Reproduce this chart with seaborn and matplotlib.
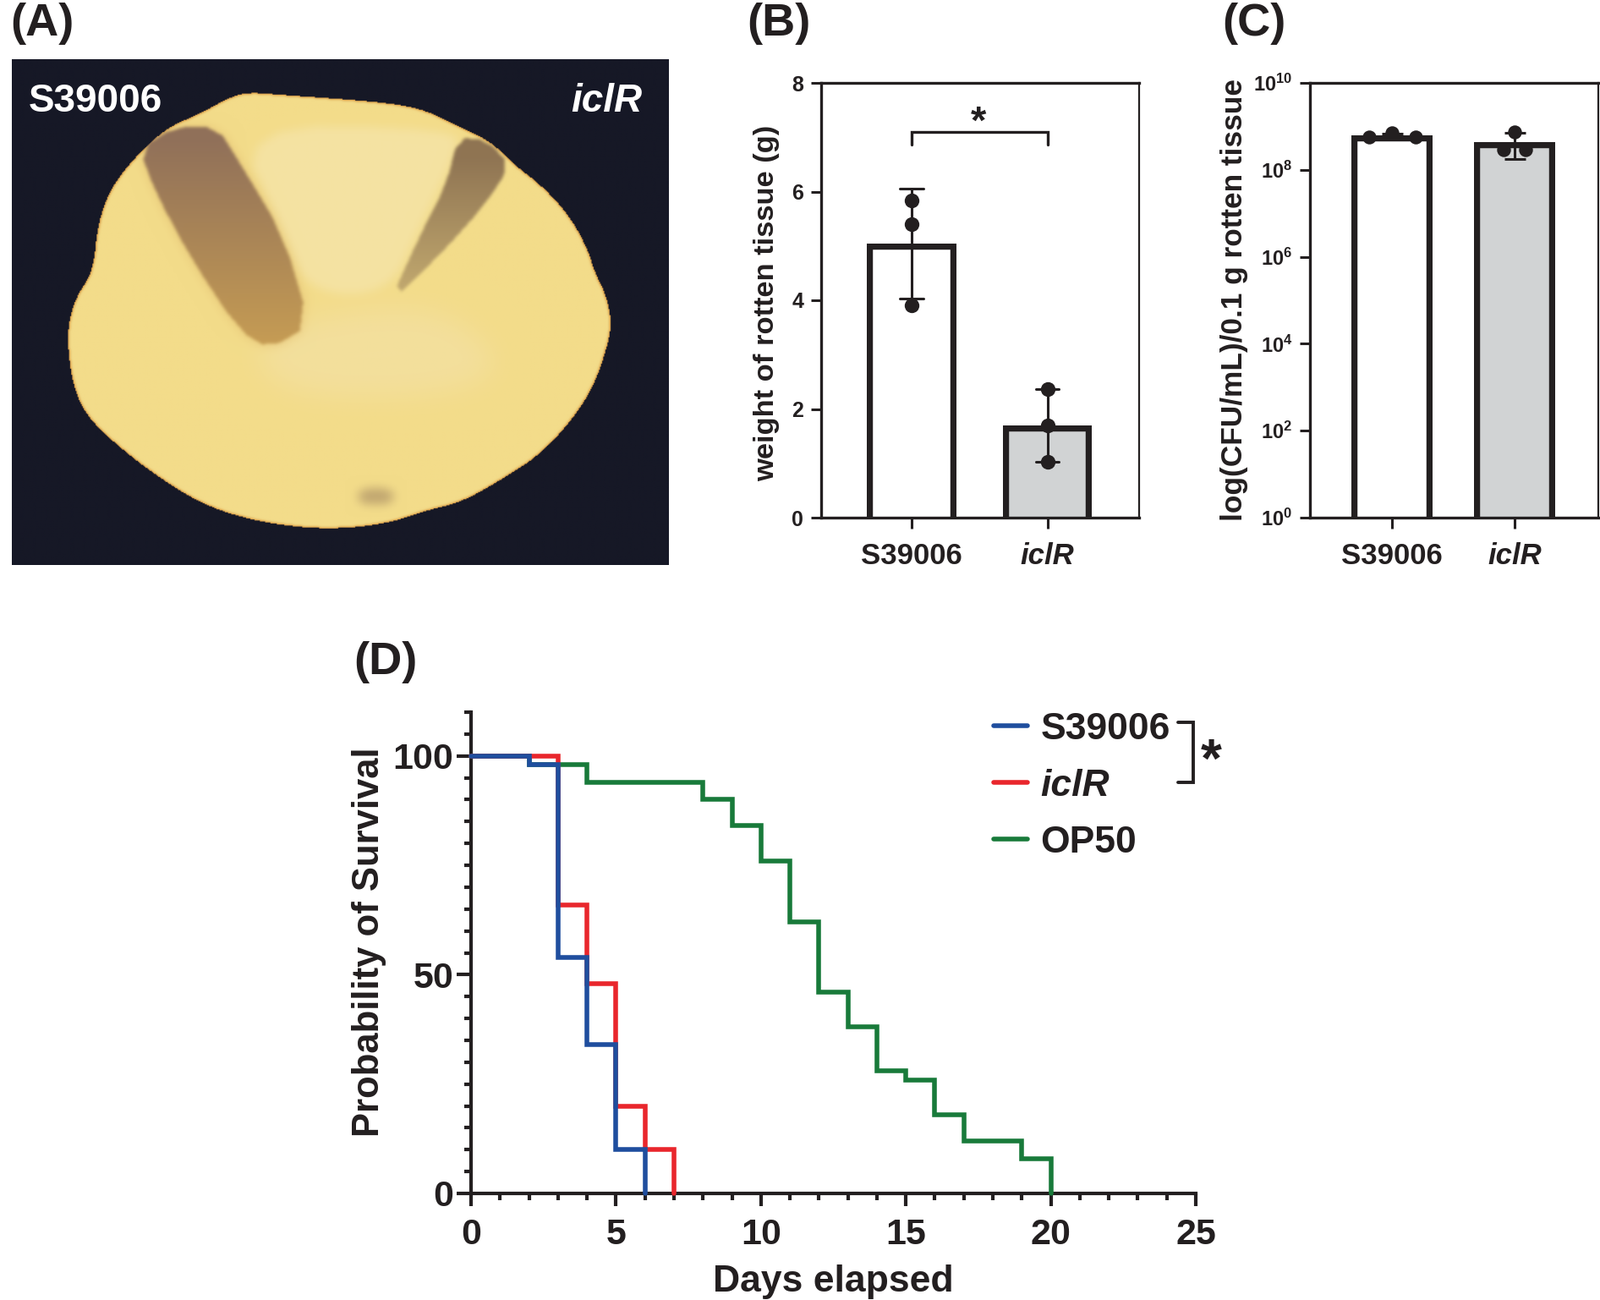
import numpy as np
import pandas as pd
import matplotlib
matplotlib.use("Agg")
import matplotlib.pyplot as plt
from matplotlib.path import Path
from matplotlib.lines import Line2D
from matplotlib.transforms import Bbox, TransformedBbox
from matplotlib.ticker import FixedLocator, NullLocator, FuncFormatter
import seaborn as sns

# ---------- data ----------
strains = ["S39006", "iclR"]
weight_s39006 = [3.90, 5.40, 5.83]
weight_iclr = [1.03, 1.70, 2.37]
cfu_s39006 = [5.8e8, 7.0e8, 5.8e8]
cfu_iclr = [2.9e8, 7.4e8, 2.9e8]
cfu_dodge_s39006 = [-0.19, 0.0, 0.19]
cfu_dodge_iclr = [-0.09, 0.0, 0.09]

days_s39006 = [0, 2, 3, 4, 5, 6]
surv_s39006 = [100, 98, 54, 34, 10, 0]
days_iclr = [0, 3, 4, 5, 6, 7]
surv_iclr = [100, 66, 48, 20, 10, 0]
days_op50 = [0, 2, 4, 8, 9, 10, 11, 12, 13, 14, 15, 16, 17, 19, 20]
surv_op50 = [100, 98, 94, 90, 84, 76, 62, 46, 38, 28, 26, 18, 12, 8, 0]

# photo sketch outlines
potato_x = [555,640,760,880,960,1040,1110,1160,1230,1290,1330,1345,1370,1385,1370,1340,1290,1220,1130,1040,960,880,780,680,560,460,370,280,190,160,150,170,210,220,250,310,380,450,510]
potato_y = [250,258,268,280,298,345,385,445,510,590,680,740,800,880,960,1060,1150,1240,1310,1370,1392,1425,1440,1438,1415,1375,1310,1230,1130,1030,900,810,740,610,510,420,345,310,270]
wedge_x = [530,1030,1035,950,880,700,640]
wedge_y = [340,350,410,620,800,800,640]
lesion_l_x = [315,395,490,540,640,700,610,540,430,350]
lesion_l_y = [405,345,345,440,640,885,950,900,700,520]
lesion_r_x = [1035,1100,1155,1095,990,880,950,1010]
lesion_r_y = [375,380,450,560,700,825,640,500]
pale_x = [700,1000,1150,1000,650,560]
pale_y = [860,830,1000,1080,1080,950]
spot_x = [810,890,890,810]
spot_y = [1330,1330,1375,1375]

INK = "#231f20"
GREY = "#d1d3d4"
BLUE = "#1f4e9e"
RED = "#e9262c"
GREEN = "#187a3a"

sns.set_theme(style="ticks")
plt.rcParams["font.family"] = ["Liberation Sans", "DejaVu Sans"]
plt.rcParams["font.weight"] = "bold"
plt.rcParams["mathtext.fontset"] = "custom"
plt.rcParams["mathtext.bf"] = "Liberation Sans:bold"
plt.rcParams["mathtext.rm"] = "Liberation Sans:bold"
plt.rcParams["text.color"] = INK
plt.rcParams["axes.labelcolor"] = INK
plt.rcParams["xtick.color"] = INK
plt.rcParams["ytick.color"] = INK

W, H = 1892, 1537
fig = plt.figure(figsize=(W / 100, H / 100), dpi=100, facecolor="white")


def px_axes(l, r, t, b):
    return fig.add_axes([l / W, 1 - b / H, (r - l) / W, (b - t) / H])


def blur(a, k):
    ker = np.ones(k) / k
    pad = k * 3
    a = np.pad(a, pad, mode="edge")
    for _ in range(3):
        a = np.apply_along_axis(lambda v: np.convolve(v, ker, mode="same"), 0, a)
        a = np.apply_along_axis(lambda v: np.convolve(v, ker, mode="same"), 1, a)
    return a[pad:-pad, pad:-pad]


def smooth(px, py, n=3):
    p = np.column_stack([px, py]).astype(float)
    for _ in range(n):
        q = np.roll(p, -1, axis=0)
        out = np.empty((2 * len(p), 2))
        out[0::2] = 0.75 * p + 0.25 * q
        out[1::2] = 0.25 * p + 0.75 * q
        p = out
    return p


# ---------- (A) photo sketch ----------
axA = px_axes(14, 791, 70, 668)
xs = np.linspace(27, 1512, 620)
ys = np.linspace(162, 1538, 500)
gx, gy = np.meshgrid(xs, ys)
pts = np.column_stack([gx.ravel(), gy.ravel()])


def mask(px, py, n=1):
    return Path(smooth(px, py, n)).contains_points(pts).reshape(gx.shape).astype(float)


def mix(img, col, m):
    c = np.array(matplotlib.colors.to_rgb(col))
    return img * (1 - m[..., None]) + c * m[..., None]


pot = mask(potato_x, potato_y, 3)
img = np.zeros(gx.shape + (3,)) + np.array(matplotlib.colors.to_rgb("#161826"))
body = np.ones_like(img) * np.array(matplotlib.colors.to_rgb("#f3dc8a"))
rim = np.clip(1 - blur(pot, 3), 0, 1) * 2
body = mix(body, "#d9983f", np.clip(rim, 0, 1))
body = mix(body, "#f5e4a8", 0.8 * blur(mask(wedge_x, wedge_y, 2), 9))
body = mix(body, "#f3e3b2", 0.45 * blur(mask(pale_x, pale_y, 2), 25))
ll = mask(lesion_l_x, lesion_l_y)
body = mix(body, "#d9ae62", 0.6 * blur(ll, 11))
ll = blur(ll, 3)
fade = np.clip((gy - 380) / 560, 0, 1)
r0 = np.array(matplotlib.colors.to_rgb("#8c6c58"))
r1 = np.array(matplotlib.colors.to_rgb("#c49a52"))
ll_col = r0 * (1 - fade[..., None]) + r1 * fade[..., None]
body = body * (1 - 0.95 * ll[..., None]) + ll_col * 0.95 * ll[..., None]
lr = blur(mask(lesion_r_x, lesion_r_y), 3)
fade2 = np.clip((gy - 430) / 380, 0, 1)
alpha2 = lr * (0.95 - 0.5 * fade2)
body = mix(body, "#8a6f50", alpha2)
body = mix(body, "#b59a6a", 0.8 * blur(mask(spot_x, spot_y, 2), 9))
img = img * (1 - pot[..., None]) + body * pot[..., None]
axA.imshow(np.clip(img, 0, 1), extent=(27, 1512, 1538, 162), aspect="auto", interpolation="bilinear")
axA.set_axis_off()
axA.text(65, 276, "S39006", color="white", fontsize=33, fontweight="bold", va="center", ha="left")
axA.text(1452, 276, "iclR", color="white", fontsize=33, fontweight="bold", style="italic", va="center", ha="right")


# ---------- (B) bars ----------
def inner_stroke(ax, floor):
    """Stroke drawn inside the bar outline, with no stroke along the axis line."""
    for bar in ax.patches:
        x0, w, top = bar.get_x(), bar.get_width(), bar.get_y() + bar.get_height()
        bar.set_y(floor / 1000 if floor > 0 else -1.0)
        bar.set_height(top - bar.get_y())
        bar.set_linewidth(10.4)
        bar.set_clip_path(None)
        bar.set_clip_box(TransformedBbox(Bbox([[x0, floor], [x0 + w, top]]), ax.transData))


def bar_frame(ax, xlim):
    for s in ax.spines.values():
        s.set_linewidth(2.4)
        s.set_color(INK)
    ax.spines["right"].set_linewidth(1.6)
    ax.set_xlim(*xlim)
    ax.tick_params(axis="both", width=2.2, length=9, pad=6)
    ax.tick_params(axis="x", labelsize=25, pad=12)
    ax.set_xlabel("")
    ax.xaxis.set_major_locator(FixedLocator([0, 1]))
    ax.set_xticklabels(strains)
    for lab in ax.get_xticklabels():
        lab.set_fontweight("bold")
        if lab.get_text() == "iclR":
            lab.set_style("italic")


axB = px_axes(971, 1347, 98, 612)
dfB = pd.DataFrame({"strain": [strains[0]] * 3 + [strains[1]] * 3, "w": weight_s39006 + weight_iclr})
sns.barplot(data=dfB, x="strain", y="w", hue="strain", order=strains, palette=["white", GREY], legend=False,
            width=0.66, errorbar="sd", capsize=0.17, edgecolor=INK,
            err_kws={"color": INK, "linewidth": 2.2}, ax=axB)
inner_stroke(axB, 0.0)
sns.stripplot(data=dfB, x="strain", y="w", order=strains, color=INK, size=12.5, jitter=False, ax=axB, zorder=5)
axB.set_ylim(0, 8)
axB.set_yticks([0, 2, 4, 6, 8])
axB.tick_params(axis="y", labelsize=18)
axB.set_ylabel("weight of rotten tissue (g)", fontsize=24.8, fontweight="bold", labelpad=10, y=0.493)
bar_frame(axB, (-0.667, 1.676))
for lab in axB.get_yticklabels():
    lab.set_fontweight("bold")
axB.plot([0, 0, 1, 1], [6.87, 7.1, 7.1, 6.87], color=INK, lw=2.4, solid_joinstyle="miter")
axB.text(0.49, 7.26, "*", fontsize=34, fontweight="bold", ha="center", va="center")

# ---------- (C) log bars ----------
axC = px_axes(1549, 1890, 98, 612)
means = [np.mean(cfu_s39006), np.mean(cfu_iclr)]
sds = [np.std(cfu_s39006, ddof=1), np.std(cfu_iclr, ddof=1)]
dfC = pd.DataFrame({"strain": strains, "m": means})
sns.barplot(data=dfC, x="strain", y="m", hue="strain", order=strains, palette=["white", GREY], legend=False,
            width=0.66, errorbar=None, edgecolor=INK, ax=axC)
inner_stroke(axC, 1.0)
axC.errorbar([0, 1], means, yerr=sds, fmt="none", ecolor=INK, elinewidth=2.2, capsize=9, capthick=2.2, zorder=4)
dfC2 = pd.DataFrame({"pos": [0 + d for d in cfu_dodge_s39006] + [1 + d for d in cfu_dodge_iclr],
                     "v": cfu_s39006 + cfu_iclr})
axC.set_yscale("log")
sns.scatterplot(data=dfC2, x="pos", y="v", color=INK, s=140, edgecolor=INK, linewidth=0, ax=axC, zorder=5)
axC.set_ylim(1, 1e10)
axC.yaxis.set_major_locator(FixedLocator([10.0 ** k for k in range(0, 11, 2)]))
axC.yaxis.set_minor_locator(NullLocator())
axC.yaxis.set_major_formatter(FuncFormatter(lambda v, p: r"$\mathbf{10^{%d}}$" % round(np.log10(v))))
axC.tick_params(axis="y", labelsize=17)
axC.set_ylabel("log(CFU/mL)/0.1 g rotten tissue", fontsize=25.4, fontweight="bold", labelpad=4)
bar_frame(axC, (-0.67, 1.68))

# ---------- (D) survival ----------
axD = px_axes(557, 1414, 842, 1411)
dfD = pd.concat([
    pd.DataFrame({"day": days_op50, "surv": surv_op50, "strain": "OP50"}),
    pd.DataFrame({"day": days_iclr, "surv": surv_iclr, "strain": "iclR"}),
    pd.DataFrame({"day": days_s39006, "surv": surv_s39006, "strain": "S39006"}),
])
sns.lineplot(data=dfD, x="day", y="surv", hue="strain", hue_order=["OP50", "iclR", "S39006"],
             palette=[GREEN, RED, BLUE], drawstyle="steps-post", estimator=None, errorbar=None,
             linewidth=4, legend=False, ax=axD, clip_on=False, solid_joinstyle="miter", zorder=4)
axD.set_xlim(0, 25)
axD.set_ylim(0, 110)
sns.despine(ax=axD)
for s in ("left", "bottom"):
    axD.spines[s].set_linewidth(3)
    axD.spines[s].set_color(INK)
axD.set_xticks(range(0, 26, 5))
axD.set_xticks(range(0, 26), minor=True)
axD.set_yticks([0, 50, 100])
axD.set_yticks(range(0, 111, 5), minor=True)
axD.tick_params(axis="both", which="major", width=3, labelsize=31)
axD.tick_params(axis="x", which="major", length=11, pad=10)
axD.tick_params(axis="y", which="major", length=12, pad=3)
axD.tick_params(axis="both", which="minor", width=3, length=6)
for lab in axD.get_xticklabels() + axD.get_yticklabels():
    lab.set_fontweight("bold")
axD.set_xlabel("Days elapsed", fontsize=32, fontweight="bold", labelpad=11)
axD.set_ylabel("Probability of Survival", fontsize=31.4, fontweight="bold", labelpad=5, y=0.522)

handles = [Line2D([], [], color=BLUE, lw=4), Line2D([], [], color=RED, lw=4), Line2D([], [], color=GREEN, lw=4)]
leg = axD.legend(handles, ["S39006", "iclR", "OP50"], loc="upper left", bbox_to_anchor=(0.721, 1.0),
                 frameon=False, fontsize=32, handlelength=0.9, handletextpad=0.35, labelspacing=0.58,
                 borderpad=0, borderaxespad=0)
for t in leg.get_texts():
    t.set_fontweight("bold")
    if t.get_text() == "iclR":
        t.set_style("italic")
axD.plot([24.4, 24.9, 24.9, 24.4], [107.7, 107.7, 94, 94], color=INK, lw=2.8, clip_on=False, solid_joinstyle="miter")
axD.text(25.52, 98.5, "*", fontsize=46, fontweight="bold", ha="center", va="center", clip_on=False)

# ---------- panel letters ----------
for lab, x, y in [("(A)", 12, 28), ("(B)", 883, 28), ("(C)", 1445, 28), ("(D)", 418, 783)]:
    fig.text(x / W, 1 - y / H, lab, fontsize=39, fontweight="bold", ha="left", va="center")

fig.savefig("out.png", dpi=100, facecolor="white")
